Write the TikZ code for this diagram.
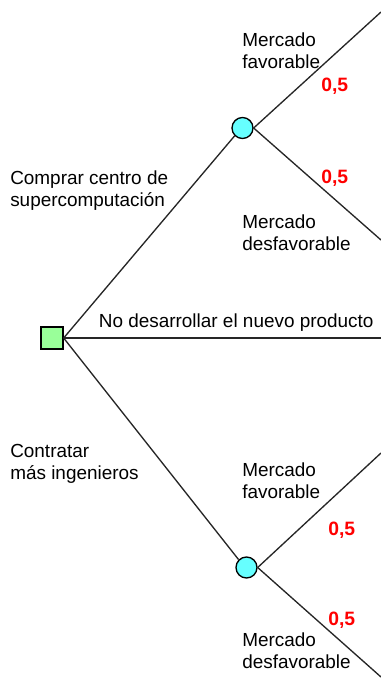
\documentclass[tikz,border=0pt]{standalone}
\usepackage{fontspec}
\setmainfont{Liberation Sans}
\begin{document}
\begin{tikzpicture}[x=0.75pt,y=-0.75pt,
  branch/.style={line width=1pt,draw=black!85},
  decision/.style={draw=black,line width=1pt,fill={rgb,255:red,153;green,255;blue,153},minimum size=16.5pt,inner sep=0pt},
  chance/.style={circle,draw=black,line width=1pt,fill={rgb,255:red,102;green,255;blue,255},minimum size=15.75pt,inner sep=0pt},
  lbl/.style={font=\fontsize{14.2pt}{16.5pt}\selectfont,inner sep=0pt,anchor=base west,align=left},
  prob/.style={font=\fontsize{14.5pt}{16.5pt}\selectfont\bfseries,text={rgb,255:red,255;green,0;blue,0},inner sep=0pt,anchor=base west}]
\useasboundingbox (0,0) rectangle (381,683);
% nodes
\node[decision] (d) at (52,338) {};
\node[chance] (c1) at (242.5,128) {};
\node[chance] (c2) at (246.5,567.5) {};
\coordinate (e1) at (381,12);
\coordinate (e2) at (381,240);
\coordinate (e3) at (381,338);
\coordinate (e4) at (381,453);
\coordinate (e5) at (381,677);
% connectors
\draw[branch] (d.east) -- (c1.south west);
\draw[branch] (d.east) -- (c2.north west);
\draw[branch] (d.east) -- (e3);
\draw[branch] (c1.east) -- (e1);
\draw[branch] (c1.east) -- (e2);
\draw[branch] (c2.east) -- (e4);
\draw[branch] (c2.east) -- (e5);
% labels (base anchor = baseline of last line)
\node[lbl] (t1) at (242,68) {Mercado\\favorable};
\node[prob] (p1) at (321,91) {0,5};
\node[prob] (p2) at (321,183) {0,5};
\node[lbl] (t2) at (242,250) {Mercado\\desfavorable};
\node[lbl] (t3) at (10,206) {Comprar centro de\\supercomputación};
\node[lbl] (t4) at (98.6,327) {No desarrollar el nuevo producto};
\node[lbl] (t5) at (10,479) {Contratar\\más ingenieros};
\node[lbl] (t6) at (242,498) {Mercado\\favorable};
\node[prob] (p3) at (328,535) {0,5};
\node[prob] (p4) at (328,625) {0,5};
\node[lbl] (t7) at (242,668) {Mercado\\desfavorable};
\end{tikzpicture}
\end{document}
